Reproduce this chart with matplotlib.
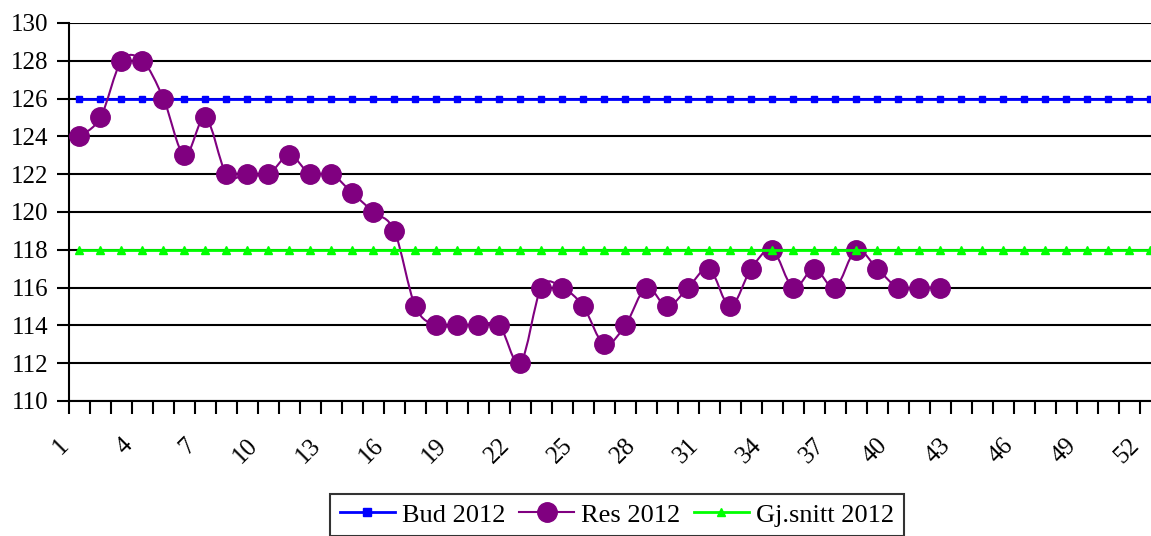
import matplotlib
matplotlib.use("Agg")
import matplotlib.pyplot as plt
from matplotlib.path import Path
from matplotlib.patches import PathPatch
from matplotlib.lines import Line2D
from matplotlib.transforms import ScaledTranslation
import numpy as np

weeks = list(range(1, 53))
bud_2012 = [126] * 52
gj_snitt_2012 = [118] * 52
res_weeks = list(range(1, 43))
res_2012 = [124, 125, 128, 128, 126, 123, 125, 122, 122, 122,
            123, 122, 122, 121, 120, 119, 115, 114, 114, 114,
            114, 112, 116, 116, 115, 113, 114, 116, 115, 116,
            117, 115, 117, 118, 116, 117, 116, 118, 117, 116,
            116, 116]
x_tick_labels = [str(w) for w in range(1, 53, 3)]
y_ticks = list(range(110, 131, 2))

plt.rcParams['font.family'] = ['Liberation Serif', 'DejaVu Serif']

fig = plt.figure(figsize=(11.51, 5.36), dpi=100)
W, H = 1151, 536
left, right_px, top_px, bot_px = 69, 1160.5, 23, 401
ax = fig.add_axes([left / W, 1 - bot_px / H, (right_px - left) / W, (bot_px - top_px) / H])

BLUE = '#0000FF'
PURPLE = '#800080'
GREEN = '#00FF00'

# Bud line
ax.plot(weeks, bud_2012, color=BLUE, lw=2.0, marker='s', markersize=5,
        markerfacecolor=BLUE, markeredgecolor=BLUE, zorder=3, clip_on=False)

# Res: smoothed line (Bezier through data points, Excel-like smoothing)
pts = np.column_stack([res_weeks, res_2012]).astype(float)
verts = [tuple(pts[0])]
codes = [Path.MOVETO]
n = len(pts)
for i in range(n - 1):
    p0 = pts[i - 1] if i > 0 else pts[i]
    p1 = pts[i]
    p2 = pts[i + 1]
    p3 = pts[i + 2] if i + 2 < n else pts[i + 1]
    c1 = p1 + (p2 - p0) / 6.0
    c2 = p2 - (p3 - p1) / 6.0
    verts += [tuple(c1), tuple(c2), tuple(p2)]
    codes += [Path.CURVE4, Path.CURVE4, Path.CURVE4]
ax.add_patch(PathPatch(Path(verts, codes), facecolor='none', edgecolor=PURPLE,
                       lw=1.5, zorder=4))
ax.plot(res_weeks, res_2012, linestyle='none', marker='o', markersize=14,
        markerfacecolor=PURPLE, markeredgecolor=PURPLE, zorder=5)

# Gj.snitt line
ax.plot(weeks, gj_snitt_2012, color=GREEN, lw=2.0, marker='^', markersize=6,
        markerfacecolor=GREEN, markeredgecolor=GREEN, zorder=6, clip_on=False)

ax.set_xlim(0.5, 52.5)
ax.set_ylim(110, 130)
ax.set_yticks(y_ticks)
ax.set_yticklabels([str(v) for v in y_ticks], fontsize=18)
ax.yaxis.grid(True, color='black', lw=1.5, zorder=1)
ax.set_axisbelow(True)

# x: boundary ticks (minor) and labels at category centres (major)
ax.set_xticks(np.arange(0.5, 53.0, 1.0), minor=True)
ax.set_xticks(list(range(1, 53, 3)))
ax.set_xticklabels(x_tick_labels, fontsize=18, rotation=45, ha='right', va='top')
ax.tick_params(axis='x', which='major', length=0, pad=24)
ax.tick_params(axis='x', which='minor', length=9, width=1.5, color='black', direction='out')
ax.tick_params(axis='y', which='major', length=9, width=1.5, direction='out', pad=6)
shift = ScaledTranslation(-6 / 100, 0, fig.dpi_scale_trans)
for lab in ax.get_xticklabels():
    lab.set_transform(lab.get_transform() + shift)

for s in ['top', 'right']:
    ax.spines[s].set_visible(False)
ax.spines['left'].set_linewidth(1.5)
ax.spines['bottom'].set_linewidth(1.5)
ax.spines['bottom'].set_color('black')

handles = [
    Line2D([], [], color=BLUE, lw=2.0, marker='s', markersize=6),
    Line2D([], [], color=PURPLE, lw=1.5, marker='o', markersize=14),
    Line2D([], [], color=GREEN, lw=2.0, marker='^', markersize=6),
]
labels = ['Bud 2012', 'Res 2012', 'Gj.snitt 2012']
leg = fig.legend(handles, labels, loc='upper center', ncol=3,
                 bbox_to_anchor=(617 / W, 1 - 494 / H), fontsize=19,
                 frameon=True, fancybox=False, edgecolor='black',
                 handlelength=2.1, handletextpad=0.27, columnspacing=0.5,
                 borderpad=0.35, borderaxespad=0, markerscale=1.0)
leg.get_frame().set_linewidth(1.5)

fig.savefig('out.png', dpi=100)
